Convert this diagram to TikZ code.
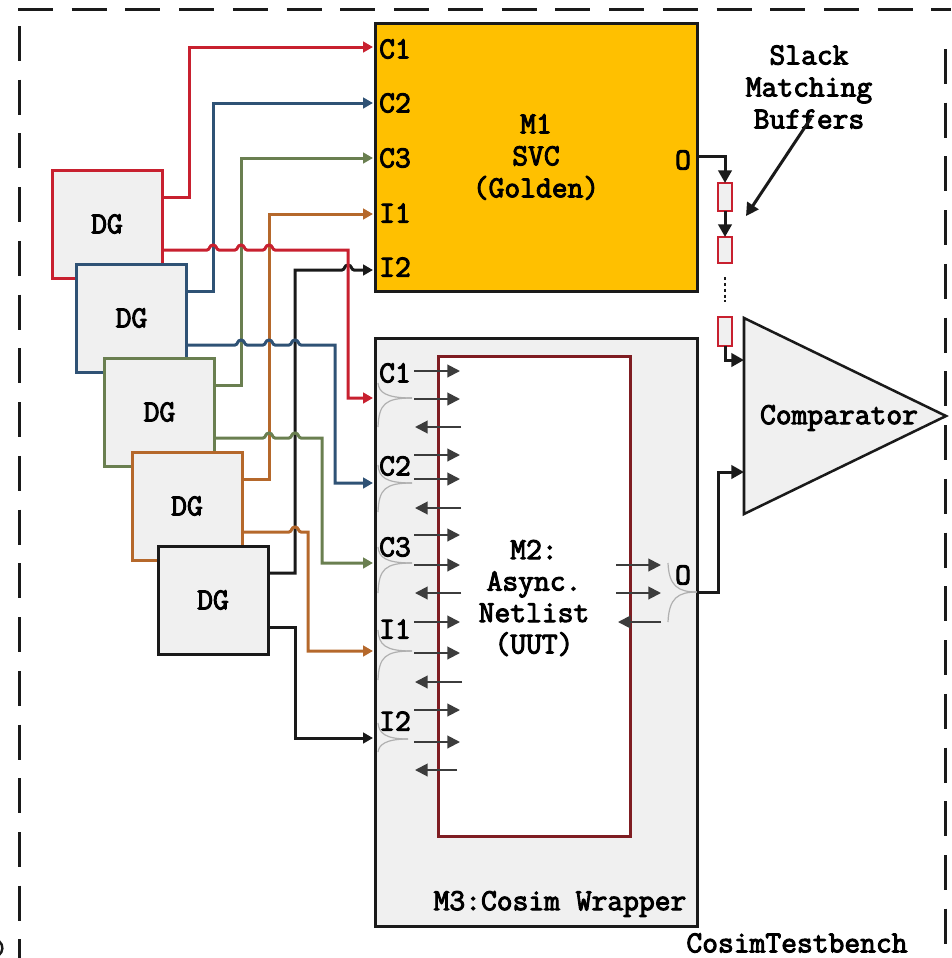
\documentclass[tikz,border=0pt]{standalone}
\usepackage{fontspec}
\newfontfamily\labelfont[FakeBold=3.2]{Latin Modern Mono}
\usetikzlibrary{arrows.meta}
\definecolor{cred}{HTML}{C8202F}
\definecolor{cblue}{HTML}{2F5275}
\definecolor{cgreen}{HTML}{6A7F50}
\definecolor{corange}{HTML}{B5682B}
\definecolor{cblack}{HTML}{1A1A1A}
\definecolor{cdark}{HTML}{7F1D22}
\definecolor{cgray}{HTML}{F0F0F0}
\definecolor{cgold}{HTML}{FFC000}
\definecolor{cbrace}{HTML}{B0B0B0}
\newcommand{\hopat}[2]{-- (#1-6,#2) .. controls (#1-3,#2) and (#1-4,#2-5) .. (#1,#2-5) .. controls (#1+4,#2-5) and (#1+3,#2) .. (#1+6,#2)}
\tikzset{
  lbl/.style={font=\fontsize{23}{24}\selectfont\labelfont, text=black, inner sep=0pt, align=center},
  dgbox/.style={draw=#1, fill=cgray, line width=2.25pt, minimum width=82.5pt, minimum height=81pt, inner sep=0pt, outer sep=0pt, font=\fontsize{23}{24}\selectfont\labelfont},
  bigbox/.style={draw=cblack, line width=2.25pt, inner sep=0pt, outer sep=0pt},
  bufbox/.style={draw=cred, fill=cgray, line width=1.5pt, minimum width=11pt, inner sep=0pt, outer sep=0pt},
  wire/.style={draw=#1, line width=2.25pt, -{Triangle[length=7.5pt,width=8pt]}},
  sig/.style={draw=cblack, line width=2.25pt, -{Triangle[length=9.5pt,width=10pt]}},
  inner/.style={draw=cblack!85, line width=1.5pt, -{Triangle[length=9.5pt,width=9.5pt]}},
  bracep/.style={draw=cbrace, line width=0.9pt},
  outerdash/.style={draw=cblack, line width=2.25pt, dash pattern=on 26.25pt off 14.05pt},
}
\begin{document}
\begin{tikzpicture}[x=0.75pt,y=-0.75pt]
\useasboundingbox (0,0) rectangle (951,958);

% outer dashed frame
\draw[outerdash] (18,9) -- (951,9);
\draw[outerdash] (19,26) -- (19,958);
\draw[outerdash] (945,49) -- (945,958);
\draw[draw=cblack, line width=1.8pt] (-1,941) .. controls (4,945) and (3,952) .. (-1,955);

% main blocks
\node[bigbox, fill=cgold, minimum width=241.5pt, minimum height=201pt] (m1) at (536,157) {};
\node[bigbox, fill=cgray, minimum width=241.5pt, minimum height=441pt] (m3) at (536,632) {};
\node[draw=cdark, line width=2.25pt, fill=white, minimum width=144pt, minimum height=360pt, inner sep=0pt, outer sep=0pt] (m2) at (534,596) {};

% data generators
\node[dgbox=cred] (dg1) at (107,224) {DG};
\node[dgbox=cblue] (dg2) at (131.5,318) {DG};
\node[dgbox=cgreen] (dg3) at (159.5,412) {DG};
\node[dgbox=corange] (dg4) at (187,506) {DG};
\node[dgbox=cblack] (dg5) at (213,600) {DG};

% port end points
\coordinate (ac1) at (373,47);
\coordinate (ac2) at (373,103);
\coordinate (ac3) at (373,158);
\coordinate (ai1) at (373,214);
\coordinate (ai2) at (373,270);
\coordinate (bc1) at (373,398);
\coordinate (bc2) at (373,483);
\coordinate (bc3) at (373,563);
\coordinate (bi1) at (373,651);
\coordinate (bi2) at (373,738);

% wires to M1
\draw[wire=cred] (dg1.east) ++(0,-27) -- ++(27,0) |- (ac1);
\draw[wire=cblue] (dg2.east) ++(0,-27) -- ++(27,0) |- (ac2);
\draw[wire=cgreen] (dg3.east) ++(0,-27) -- ++(27,0) |- (ac3);
\draw[wire=corange] (dg4.east) ++(0,-27) -- ++(27,0) |- (ai1);
\draw[wire=cblack] (dg5.east) ++(0,-27) -- ++(27,0) -- (295,270) \hopat{348}{270} -- (ai2);

% wires to M3
\draw[wire=cred] (dg1.east) ++(0,26) \hopat{213}{250} \hopat{241}{250} \hopat{269}{250} -- (348,250) |- (bc1);
\draw[wire=cblue] (dg2.east) ++(0,27) \hopat{241}{345} \hopat{269}{345} \hopat{295}{345} -- (335,345) |- (bc2);
\draw[wire=cgreen] (dg3.east) ++(0,26) \hopat{269}{438} \hopat{295}{438} -- (322,438) |- (bc3);
\draw[wire=corange] (dg4.east) ++(0,26) \hopat{295}{532} -- (308,532) |- (bi1);
\draw[wire=cblack] (dg5.east) ++(0,27) -- ++(27,0) |- (bi2);

% braces on the wrapper ports
\foreach \t/\c/\b/\e in {383/398/427/412, 465/483/512/412, 547/563/593/412, 630/651/680/412, 723/739/752/408}{
  \draw[bracep] (378,\t) .. controls (379,\c-6) and (385,\c) .. (\e,\c);
  \draw[bracep] (378,\b) .. controls (379,\c+6) and (385,\c) .. (\e,\c);
}
\draw[bracep] (668,563) .. controls (669,586) and (678,592) .. (697,592);
\draw[bracep] (668,622) .. controls (669,598) and (678,592) .. (697,592);

% arrows crossing M2
\foreach \a/\b/\c/\xe in {371/399/427/461, 455/479/508/461, 535/565/593/461, 622/653/682/462, 710/742/770/457}{
  \draw[inner] (414,\a) -- (460,\a);
  \draw[inner] (414,\b) -- (460,\b);
  \draw[inner] (\xe,\c) -- (415,\c);
}
\draw[inner] (616,565) -- (661,565);
\draw[inner] (616,593) -- (661,593);
\draw[inner] (661,622) -- (618,622);

% comparator
\coordinate (cmpa) at (744,318);
\coordinate (cmpb) at (744,514);
\coordinate (cmpc) at (946,416);
\draw[draw=cblack, line width=1.9pt, fill=cgray, line join=miter] (cmpa) -- (cmpc) -- (cmpb) -- cycle;
\node[lbl] (cmp) at (839,418) {Comparator};
\coordinate (cmpin1) at (744,360);
\coordinate (cmpin2) at (744,472);

% slack matching buffers
\node[bufbox, minimum height=21pt] (buf1) at (725,197) {};
\node[bufbox, minimum height=19.5pt] (buf2) at (725,250) {};
\node[bufbox, minimum height=21.75pt] (buf3) at (725,331.5) {};
\coordinate (oport) at (697,156);
\coordinate (oout) at (697,592);
\draw[sig] (oport) -| (buf1.north);
\draw[sig] (buf1.south) -- (buf2.north);
\coordinate (dota) at (725,277);
\coordinate (dotb) at (725,302);
\draw[draw=cblack, line width=1.5pt, dash pattern=on 2.2pt off 2.2pt] (dota) -- (dotb);
\draw[sig] (buf3.south) |- (cmpin1);
\draw[sig] (oout) -- (718,592) |- (cmpin2);

% labels
\node[lbl] (l1) at (395,49) {C1};
\node[lbl] (l2) at (395,103) {C2};
\node[lbl] (l3) at (395,158) {C3};
\node[lbl] (l4) at (395,213) {I1};
\node[lbl] (l5) at (395,267) {I2};
\node[lbl] (lo1) at (683,160) {O};
\node[lbl] (m1t) at (536,157) {M1\\SVC\\(Golden)};
\node[lbl] (n1) at (395,373) {C1};
\node[lbl] (n2) at (395,466) {C2};
\node[lbl] (n3) at (395,547) {C3};
\node[lbl] (n4) at (395,629) {I1};
\node[lbl] (n5) at (395,721) {I2};
\node[lbl] (lo2) at (683,575) {O};
\node[lbl, font=\fontsize{23}{23.6}\selectfont\labelfont] (m2t) at (534,598) {M2:\\Async.\\Netlist\\(UUT)};
\node[lbl] (m3t) at (560,904) {M3:Cosim Wrapper};
\node[lbl] (tb) at (797,943) {CosimTestbench};
\node[lbl] (sl) at (809,87) {Slack\\Matching\\Buffers};
\coordinate (slackfrom) at (811,118);
\coordinate (slackto) at (746,216);
\draw[sig] (slackfrom) -- (slackto);
\end{tikzpicture}
\end{document}
